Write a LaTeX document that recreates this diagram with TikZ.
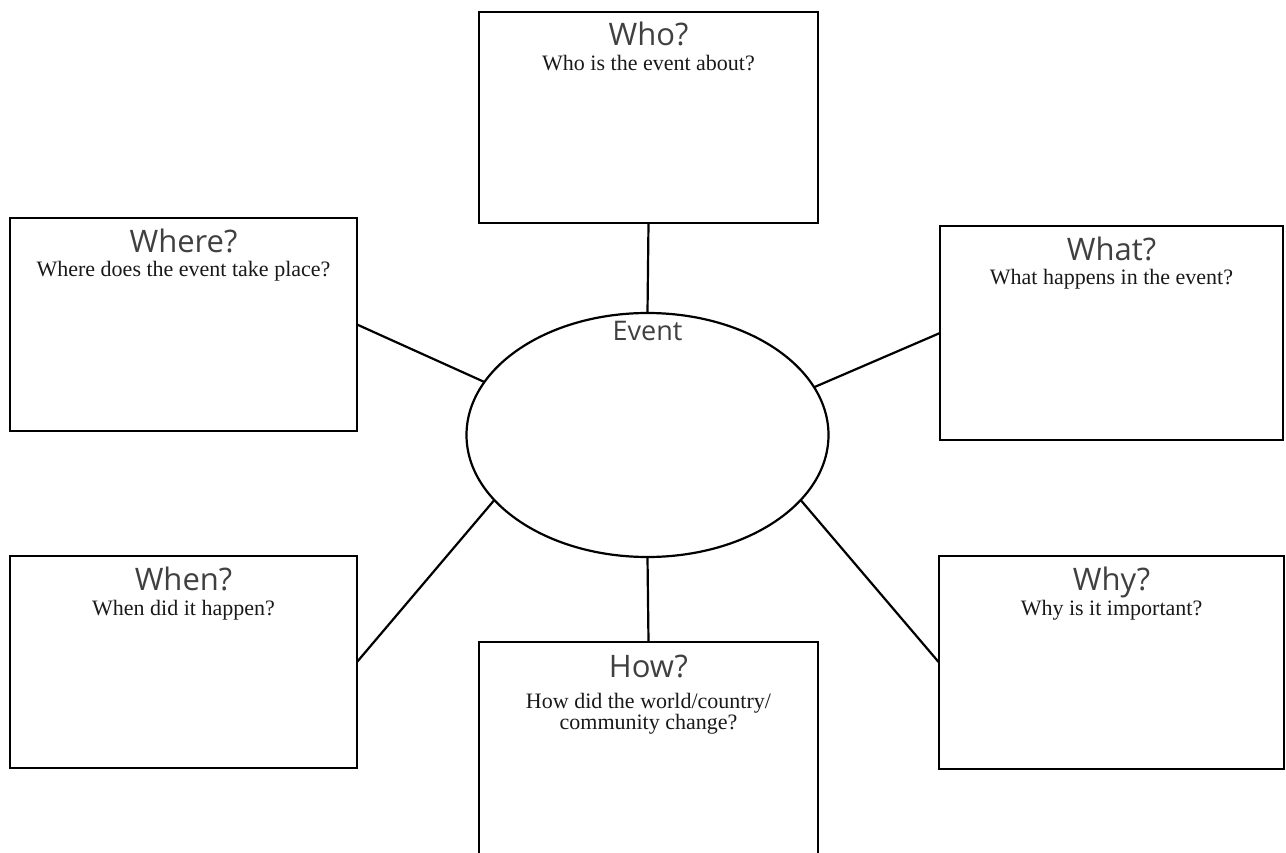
\documentclass[tikz,border=0pt]{standalone}
\usepackage{fontspec}
\setmainfont{Liberation Serif}
\newfontfamily\titlefont{Open Sans}
\usetikzlibrary{shapes.geometric}
\begin{document}
\begin{tikzpicture}[x=1pt,y=-1pt,
  box/.style={draw,line width=2.2pt,rectangle,inner sep=0pt,outer sep=0pt},
  link/.style={line width=2.2pt},
  ttl/.style={font=\titlefont\fontsize{31}{36}\selectfont,anchor=base,inner sep=0pt,text=black!75},
  sub/.style={font=\fontsize{22}{21}\selectfont,anchor=base,inner sep=0pt,align=center,text=black!90}]
\useasboundingbox (0,0) rectangle (1286,853);
\clip (0,0) rectangle (1286,853);
% boxes
\node[box,minimum width=339pt,minimum height=211pt] (who) at (648.5,117.5) {};
\node[box,minimum width=347pt,minimum height=213pt] (where) at (183.5,324.5) {};
\node[box,minimum width=343pt,minimum height=214pt] (what) at (1111.5,333) {};
\node[box,minimum width=347pt,minimum height=212pt] (when) at (183.5,662) {};
\node[box,minimum width=345pt,minimum height=213pt] (why) at (1111.5,662.5) {};
\node[box,minimum width=339pt,minimum height=224pt] (how) at (648.5,754) {};
% ellipse
\node[ellipse,draw,line width=2.2pt,minimum width=362pt,minimum height=244pt,inner sep=0pt,outer sep=0pt] (event) at (647.5,435) {};
\node[font=\titlefont\fontsize{27}{32}\selectfont,anchor=base,inner sep=0pt,text=black!75] (eventlbl) at (647.5,341) {Event};
% connectors
\draw[link] (who.south) -- (event.north);
\draw[link] (how.north) -- (event.south);
\draw[link] (where.east) -- (event.162);
\draw[link] (what.west) -- (event.16);
\draw[link] (when.east) -- (event.203);
\draw[link] (why.west) -- (event.337);
% titles
\node[ttl] (whot) at ([yshift=-34pt]who.north) {Who?};
\node[sub] (whos) at ([yshift=-59pt]who.north) {Who is the event about?};
\node[ttl] (wheret) at ([yshift=-35pt]where.north) {Where?};
\node[sub] (wheres) at ([yshift=-59pt]where.north) {Where does the event take place?};
\node[ttl] (whatt) at ([yshift=-35pt]what.north) {What?};
\node[sub] (whats) at ([yshift=-59pt]what.north) {What happens in the event?};
\node[ttl] (whent) at ([yshift=-34pt]when.north) {When?};
\node[sub] (whens) at ([yshift=-59pt]when.north) {When did it happen?};
\node[ttl] (whyt) at ([yshift=-34pt]why.north) {Why?};
\node[sub] (whys) at ([yshift=-59pt]why.north) {Why is it important?};
\node[ttl] (howt) at ([yshift=-35pt]how.north) {How?};
\node[sub,anchor=north] (hows) at ([yshift=-51pt]how.north) {How did the world/country/\\community change?};
\end{tikzpicture}
\end{document}
